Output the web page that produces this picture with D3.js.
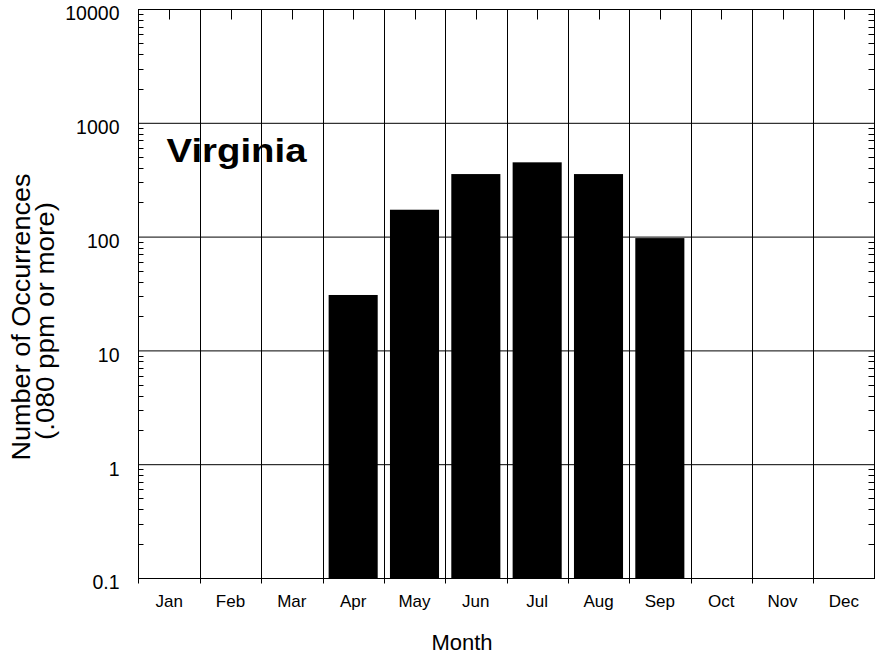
<!DOCTYPE html>
<html><head><meta charset="utf-8">
<script src="https://cdn.jsdelivr.net/npm/d3@7"></script>
<style>body{margin:0;background:#fff}svg{display:block}text{font-family:"Liberation Sans",Arial,sans-serif;fill:#000}</style>
</head><body>
<svg id="c" width="875" height="659"></svg>
<script>
const months = ["Jan","Feb","Mar","Apr","May","Jun","Jul","Aug","Sep","Oct","Nov","Dec"];
const occurrences = [null,null,null,31,174,358,454,358,98,null,null,null];
const yTicks = [0.1,1,10,100,1000,10000];
const yTickLabels = ["0.1","1","10","100","1000","10000"];
const title = "Virginia";
const xTitle = "Month";
const yTitle = ["Number of Occurrences","(.080 ppm or more)"];

const svg = d3.select("#c");
const L = 138.5, R = 874.5, T = 9.5, B = 578.5;
const x = d3.scaleBand().domain(months).range([L, R]).paddingInner(0.2).paddingOuter(0.1);
const y = d3.scaleLog().domain([0.1, 10000]).range([B, T]);
const step = (R - L) / months.length;

// horizontal gridlines
svg.append("g").selectAll("line").data(yTicks).join("line")
  .attr("x1", L).attr("x2", R).attr("y1", d => y(d)).attr("y2", d => y(d))
  .attr("stroke", "#000").attr("stroke-width", 1);

// vertical gridlines at month boundaries, extending below axis
const bounds = d3.range(1, months.length).map(i => L + i * step);
svg.append("g").selectAll("line").data(bounds).join("line")
  .attr("x1", d => Math.round(d) + 0.5).attr("x2", d => Math.round(d) + 0.5)
  .attr("y1", T).attr("y2", B + 5)
  .attr("stroke", "#000").attr("stroke-width", 1);

// bars
const data = months.map((m, i) => ({m, v: occurrences[i]})).filter(d => d.v != null);
svg.append("g").selectAll("rect").data(data).join("rect")
  .attr("x", d => x(d.m)).attr("width", x.bandwidth())
  .attr("y", d => y(d.v)).attr("height", d => y(0.1) - y(d.v))
  .attr("fill", "#000");

// minor ticks left & right
const minors = [];
for (let e = -1; e < 4; e++) for (let k = 2; k <= 9; k++) minors.push(k * Math.pow(10, e));
const yy = d => Math.round(y(d) - 0.5) + 0.5;
svg.append("g").selectAll("line").data(minors).join("line")
  .attr("x1", L).attr("x2", L + 5).attr("y1", yy).attr("y2", yy).attr("stroke", "#000");
svg.append("g").selectAll("line").data(minors).join("line")
  .attr("x1", R - 6).attr("x2", R).attr("y1", yy).attr("y2", yy).attr("stroke", "#000");

// top ticks at month centers
svg.append("g").selectAll("line").data(months).join("line")
  .attr("x1", d => Math.round(x(d) + x.bandwidth() / 2) + 0.5)
  .attr("x2", d => Math.round(x(d) + x.bandwidth() / 2) + 0.5)
  .attr("y1", T).attr("y2", T + 10).attr("stroke", "#000");

// frame
svg.append("rect").attr("x", L).attr("y", T).attr("width", R - L).attr("height", B - T)
  .attr("fill", "none").attr("stroke", "#000");
svg.append("line").attr("x1", L).attr("x2", L).attr("y1", B).attr("y2", B + 5).attr("stroke", "#000");

// y tick labels
svg.append("g").selectAll("text").data(yTicks).join("text")
  .attr("x", 119.5).attr("y", d => y(d) + 10.8)
  .attr("text-anchor", "end").style("font-size", "19.5px")
  .text((d, i) => yTickLabels[i]);

// month labels
svg.append("g").selectAll("text").data(months).join("text")
  .attr("x", d => x(d) + x.bandwidth() / 2).attr("y", 606.5)
  .attr("text-anchor", "middle").style("font-size", "17px")
  .text(d => d);

// x title
svg.append("text").attr("x", 462).attr("y", 650).attr("text-anchor", "middle")
  .style("font-size", "22px").text(xTitle);

// y title
svg.append("text").attr("transform", "translate(30,317) rotate(-90)")
  .attr("text-anchor", "middle").style("font-size", "25px")
  .attr("textLength", 287).attr("lengthAdjust", "spacingAndGlyphs").text(yTitle[0]);
svg.append("text").attr("transform", "translate(54,321) rotate(-90)")
  .attr("text-anchor", "middle").style("font-size", "25px")
  .attr("textLength", 238).attr("lengthAdjust", "spacingAndGlyphs").text(yTitle[1]);

// chart label
svg.append("text").attr("x", 166.5).attr("y", 161.5)
  .style("font-size", "34px").style("font-weight", "bold")
  .attr("textLength", 140).attr("lengthAdjust", "spacingAndGlyphs").text(title);
</script>
</body></html>
